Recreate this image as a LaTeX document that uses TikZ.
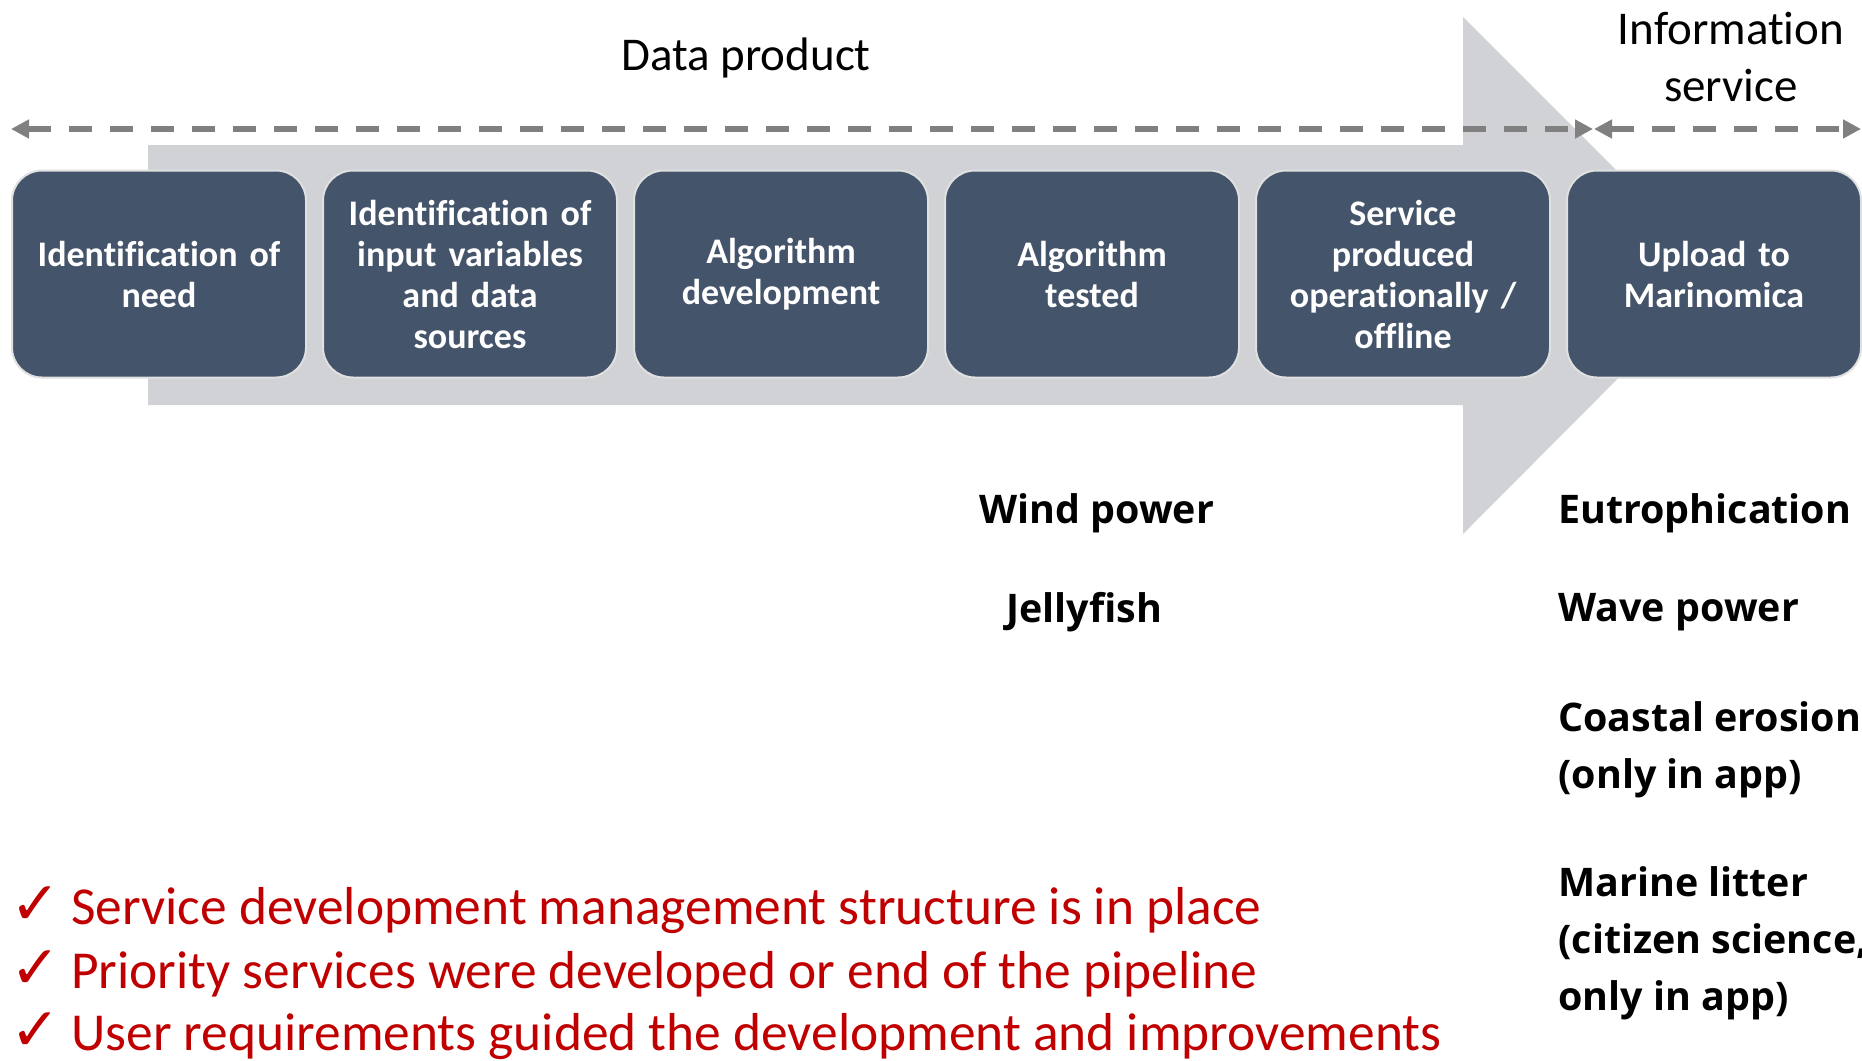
\documentclass[tikz,border=0pt]{standalone}
\usepackage{fontspec}
\setmainfont[Ligatures = NoCommon]{Carlito}
\newfontfamily\topicfont{Open Sans}
\newfontfamily\tickfont{DejaVu Sans}
\usetikzlibrary{arrows.meta, positioning}

\definecolor{stageblue}{HTML}{44546A}
\definecolor{pipegray}{HTML}{D0D2D6}
\definecolor{spangray}{HTML}{808080}
\definecolor{donered}{HTML}{C00000}

\newcommand{\tick}{{\tickfont\fontsize{30}{32}\selectfont ✓}\hspace{0.2em}}

\begin{document}
\begin{tikzpicture}
        [
        x = 0.5pt, y = -0.5pt,
        stage/.style = {
            draw = black!12, line width = 1pt,
            fill = stageblue, rounded corners = 15pt,
            text = white, align = center,
            font = \bfseries\fontsize{18}{20.5}\selectfont,
            text width = 137pt, inner sep = 0pt,
            minimum width = 147pt, minimum height = 103.5pt,
            node distance = 155.5pt,
        },
        phaseline/.style = {
            spangray, line width = 2.8pt,
            dash pattern = on 11.5pt off 9pt,
            {Triangle[length = 9pt, width = 9pt]}-{Triangle[length = 9pt, width = 9pt]},
        },
        heading/.style = {
            align = center, inner sep = 0pt,
            font = \fontsize{23.5}{28.5}\selectfont,
        },
        topic/.style = {
            anchor = west, align = left, inner sep = 0pt,
            font = \topicfont\bfseries\fontsize{19.7}{28.5}\selectfont,
        },
        done/.style = {
            anchor = west, inner sep = 0pt, text = donered,
            font = \fontsize{26.7}{32}\selectfont,
        },
        ]

        \useasboundingbox (0,0) rectangle (1862,1060);

        % Pijl
        \fill[pipegray] (148,145) -- (1463,145) -- (1463,17) -- (1721,275)
            -- (1463,534) -- (1463,405) -- (148,405) -- cycle;

        % Fasen
        \coordinate (product_start) at (11,129);
        \coordinate (product_end) at (1593,129);
        \coordinate (service_start) at (1594,129);
        \coordinate (service_end) at (1861,129);
        \draw[phaseline] (product_start) -- (product_end);
        \draw[phaseline] (service_start) -- (service_end);

        \node[heading] (data_product) at (746,58) {Data product};
        \node[heading] (information_service) at (1731,57) {Information\\service};

        % Stappen
        \node[stage] (need) at (159,274) {Identification of\\need};
        \node[stage, right of = need] (inputs) {Identification of\\input variables\\and data\\sources};
        \node[stage, right of = inputs] (development) {Algorithm\\development};
        \node[stage, right of = development] (tested) {Algorithm\\tested};
        \node[stage, right of = tested] (operational) {Service\\produced\\operationally /\\offline};
        \node[stage, right of = operational] (upload) {Upload to\\Marinomica};

        % Diensten
        \node[topic] (wind_power) at (979,513) {Wind power};
        \node[topic] (jellyfish) at (1006,612) {Jellyfish};
        \node[topic] (eutrophication) at (1558,513) {Eutrophication};
        \node[topic] (wave_power) at (1558,612) {Wave power};
        \node[topic] (coastal_erosion) at (1558,750) {Coastal erosion\\(only in app)};
        \node[topic] (marine_litter) at (1558,943) {Marine litter\\(citizen science,\\only in app)};

        % Resultaten
        \node[done] (result_structure) at (10,910) {\tick Service development management structure is in place};
        \node[done] (result_priority) at (10,974) {\tick Priority services were developed or end of the pipeline};
        \node[done] (result_users) at (10,1036) {\tick User requirements guided the development and improvements};
    \end{tikzpicture}
\end{document}
